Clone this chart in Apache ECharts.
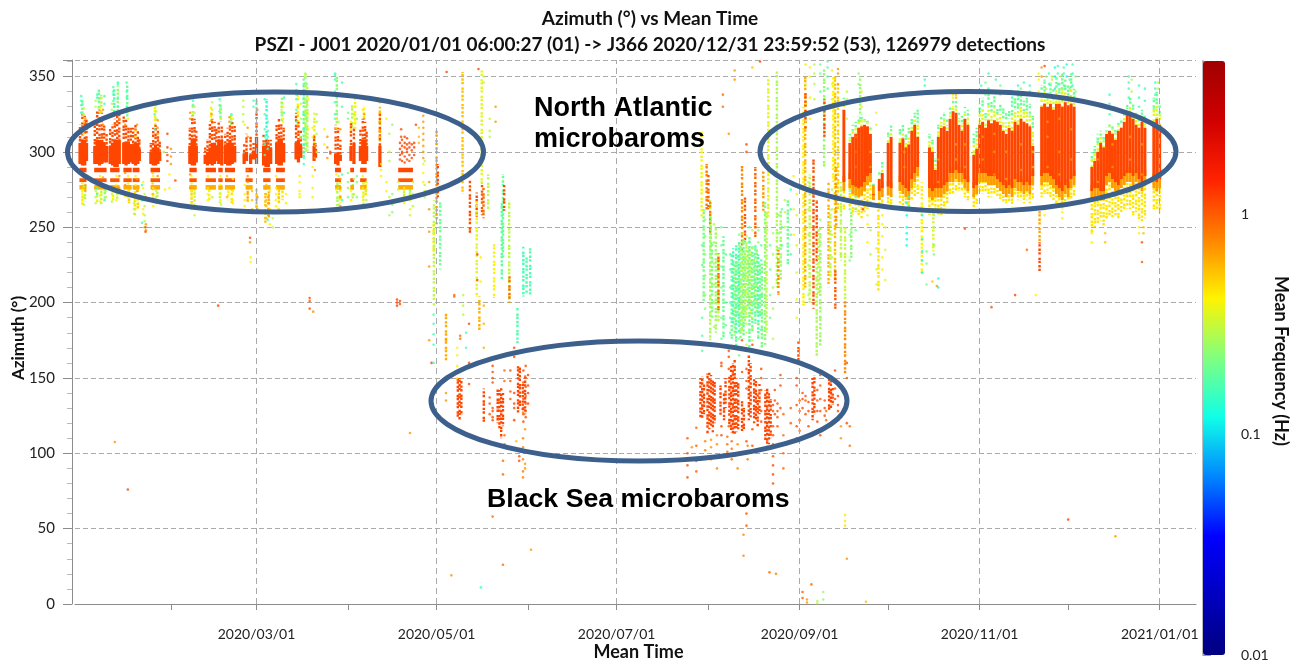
<!DOCTYPE html>
<html>
<head>
<meta charset="utf-8">
<title>Azimuth vs Mean Time</title>
<script src="https://cdn.jsdelivr.net/npm/echarts@6/dist/echarts.min.js"></script>
<style>
html,body{margin:0;padding:0;background:#fff;}
#main{width:1302px;height:664px;}
</style>
</head>
<body>
<div id="main"></div>
<script>
// all days are counted from 2020/01/01, all azimuths in degrees, frequencies in Hz
var monthTicks = ['2020-02-01','2020-03-01','2020-04-01','2020-05-01','2020-06-01','2020-07-01','2020-08-01','2020-09-01','2020-10-01','2020-11-01','2020-12-01','2021-01-01'];
var labelledMonths = ['2020-03-01','2020-05-01','2020-07-01','2020-09-01','2020-11-01','2021-01-01'];
var freqLabels = [0.01,0.1,1];
var freqMinor = [0.02,0.03,0.04,0.05,0.06,0.07,0.08,0.09,0.2,0.3,0.4,0.5,0.6,0.7,0.8,0.9,2,3,4,5];

// winter north atlantic runs: day, core low, core high, top of the sparse part
var winterRuns = [
[.2,292,306,318],[1,291,308,325],[1.8,291,308,324],[2.4,294,306,322],
[5.2,292,304,318],[6,292,308,328],[6.8,291,308,328],[7.6,292,308,326],[8.4,293,306,318],[9.2,293,304,312],
[10.4,292,304,316],[11.2,291,306,318],[12,290,308,322],[12.8,290,308,326],[13.5,292,308,325],
[15,292,306,324],[15.8,291,307,322],[16.6,292,307,318],[17.4,293,304,316],
[18.2,292,304,316],[19,291,306,318],[19.8,292,306,314],[20.3,294,302,310],
[24.2,292,300,306],[25,291,303,316],[25.8,291,305,318],[26.6,292,303,314],[27.2,294,300,308],
[37.4,292,304,316],[38.2,291,309,324],[39,291,309,322],[39.6,293,304,314],
[42.6,292,298,304],[43.4,291,300,308],[44.2,292,303,320],[45,291,306,322],[45.8,292,306,320],[46.4,294,304,316],
[47.2,292,308,320],[48.2,291,308,318],
[49.4,292,304,312],[50.2,291,306,316],[51,291,308,318],[51.8,292,306,320],[52.6,293,304,318],
[55.8,292,299,306],[56.6,294,300,312],[58,292,298,310],[59,295,301,306],[60,292,310,326],
[62.4,291,304,312],[63.2,290,306,310],[64,290,304,308],[64.8,292,303,308],
[66.8,292,306,318],[67.6,291,309,322],[68.4,291,309,320],[69.2,293,306,316],
[73.4,295,306,326],[74.2,293,308,320],[75,296,304,314],[79.5,294,304,312],[80,296,302,306],
[86.8,292,299,318],[87.6,291,300,316],[88.4,294,298,308],
[92,294,304,320],[93,292,306,316],
[95.2,294,304,316],[96,292,308,322],[96.8,292,308,320],[97.3,294,304,314],[101.8,290,304,326]];
var winterStripes = [[286.5,289.5,1.15],[280,282.5,1.05],[275,278,.62]];
// columns that carry those stripes: day, width
var stripeColumns = [[1.2,2.4],[7.1,4.2],[12,3.2],[16.3,2.8],[19.2,2.3],[25.7,3.2],[38.5,2.5],[44.5,3.5],[47.8,1.5],[51,3.4],[57.5,2.4],[63.5,2.5],[68.1,3],[87.6,2],[92.4,1.3],[96.2,2.2],[110.5,5]];
// yellow and green speckle under and over the winter columns: day, low, high, frequency
var winterFringe = [
[1,265,276,.42],[1.9,267,276,.3],[6,266,276,.36],[7.4,264,276,.3],[8.6,268,276,.25],[11.4,266,276,.4],[12.8,268,276,.3],[15.6,268,276,.45],[16.8,266,276,.5],[18.8,258,276,.48],[19.8,262,276,.5],
[25,266,276,.45],[26.4,268,276,.3],[38,262,276,.5],[39,264,276,.35],[44,268,276,.4],[47.6,266,276,.3],[50.4,268,276,.4],[51.6,266,276,.45],[57,266,276,.6],[60,262,276,.5],[63,252,276,.55],[64.2,256,276,.6],
[67.6,264,276,.5],[68.8,268,276,.45],[87.4,262,280,.28],[88.4,266,280,.4],[92.6,268,280,.3],[96.2,264,280,.35],[97,270,280,.45],[110,268,278,.3],[112,268,278,.25],
[1,325,336,.2],[6.6,328,342,.2],[7.4,326,338,.3],[11.8,324,342,.17],[13,326,344,.25],[16.2,322,345,.2],[25.6,318,330,.4],[38.4,322,332,.3],[44.6,320,330,.4],[47.8,320,334,.22],[51.4,318,326,.3],
[60,325,335,.2],[63.4,305,335,.14],[68.6,320,336,.24],[74,320,340,.4],[76,296,345,.18],[76.6,300,352,.26],[77.2,300,344,.3],[79.6,300,326,.36],[87.2,318,352,.24],[92.4,316,332,.3],[93.4,316,338,.42],[96.4,320,330,.4],[101.8,304,330,.55]];

// late year north atlantic, one row per day: day, yellow low, core low, core high, green top
var autumnRows = [
[259,262,274,328,336],[261,262,276,306,312],[262,258,272,310,318],[263,260,271,312,320],[264,258,270,316,324],[265,256,271,317,325],[266,260,274,318,324],[267,262,278,317,322],[268,262,280,312,318],
[269,264,268,272,280],[271,262,268,282,288],[272,264,270,286,294],[274,262,271,306,314],[275,264,270,310,318],[278,266,274,306,316],[279,264,272,309,318],[280,264,270,303,312],[281,262,268,305,316],
[282,268,276,314,322],[283,270,280,318,326],[284,272,284,310,328],[288,258,270,303,312],[289,260,268,300,308],[290,262,270,288,296],[291,258,270,310,318],[292,258,270,316,324],[293,262,272,317,326],[294,264,274,314,322],
[295,272,280,322,330],[296,272,280,327,334],[297,274,282,326,334],[298,274,280,318,326],[299,274,280,314,324],[300,270,276,322,330],[301,268,274,318,328],[303,262,270,298,312],[304,264,272,302,316],
[305,272,280,318,332],[306,272,280,320,336],[307,272,280,316,328],[308,270,278,321,340],[309,270,278,319,335],[310,272,278,321,338],[311,270,276,320,330],[312,268,274,318,332],[313,266,272,314,330],[314,266,270,312,326],[315,266,272,316,328],[316,264,270,314,334],
[317,270,276,320,336],[318,268,274,318,338],[319,268,274,322,340],[320,266,272,320,334],[321,268,274,319,336],[322,266,272,317,332],[323,268,278,304,324],
[326,270,278,330,344],[327,272,280,332,348],[328,272,280,330,340],[329,270,278,332,346],[330,268,276,328,342],[331,266,272,332,350],[332,264,270,332,346],[333,262,268,330,352],[334,266,272,333,348],[335,264,270,331,344],[336,268,276,332,352],[337,270,278,330,342],
[343,246,268,290,300],[344,250,270,294,304],[345,252,270,300,312],[346,254,268,306,314],[347,250,268,303,312],[348,254,278,312,316],[349,258,280,314,320],[350,256,276,312,318],[351,258,274,308,316],[352,256,272,314,320],[353,260,276,316,322],[354,262,278,320,328],[355,262,280,325,332],[356,262,280,326,336],[357,258,278,322,332],[358,260,280,318,326],[359,254,276,316,324],[360,254,274,320,328],[361,256,278,316,324],[364,262,276,320,336],[365,262,274,322,340],[366,260,276,318,332]];

// black sea runs: day, low, high
var blackSeaRuns = [
[128.2,124,150],[128.8,122,150],[129.4,126,148],[137,121,143],[141.7,120,143],[142.3,116,142],[142.9,110,144],[143.5,118,140],[148.6,127,160],[149.2,130,158],[150.2,128,146],[151,126,152],
[210.4,124,150],[211,122,151],[211.6,126,146],[212.8,113,153],[213.4,116,154],[214,118,152],[214.6,114,150],[215.2,120,148],[217.2,125,145],[218.4,122,140],[218.9,130,150],
[220.2,118,152],[220.8,114,158],[221.4,112,160],[222,113,162],[222.6,114,150],[223.2,116,148],[224.5,113,135],[225.1,116,130],[226.8,122,165],[227.4,124,160],
[228.6,120,150],[229.2,122,148],[229.8,118,140],[230.4,126,146],[232.4,108,142],[233,104,144],[233.6,106,140],[234.2,110,136],[248.4,122,150],[249,126,152],[254,128,150],[254.6,130,148],[255.2,132,144]];

// thin vertical runs between the regions: day, low, high, frequency
var stemRuns = [
[121,252,314,.7],[121.4,270,292,1.15],[120,232,252,.42],[120.1,198,268,.3],[122.2,222,268,.2],[124.2,160,193,.62],
[129.8,272,353,.55],[132.3,246,281,1.1],[134.6,257,273,1.1],[134.6,204,268,.36],[136.3,279,354,.36],[136.4,258,279,1.05],[136.9,256,276,.9],
[135.5,180,204,.6],[140.5,203,240,.42],[143.1,215,266,.18],[143.5,230,285,.2],[143.9,261,278,1.1],[145.6,200,268,.3],[145.7,200,218,.9],
[138.5,262,285,.3],[148.4,173,197,.17],[150.4,204,237,.16],[151.5,206,232,.17],[152.7,204,237,.17],
[211.5,200,262,.22],[215.6,180,250,.26],[218.2,176,244,.2],[237.6,215,262,.26],[240,225,268,.2],[247.4,200,285,.3],[251,170,250,.26],[258,228,280,.3],[261.5,228,262,.24],
[210.8,257,314,.4],[212.5,261,292,.8],[213.1,262,285,1],[213.7,175,268,.28],[213.7,245,268,.8],[213.9,230,257,.24],[214.3,190,240,.22],[216.5,186,233,.3],[216.5,195,233,.9],
[224.5,234,292,.75],[225.5,240,270,1.05],[229,243,290,.95],[231.7,261,287,.7],[233.4,257,350,.36],[236.3,210,354,.28],[236.8,205,235,.75],
[243.6,162,175,1.05],[245.3,198,330,.42],[245.9,210,352,.6],[246,315,340,1.1],[248.7,196,295,1.1],[249.8,226,268,1.1],[249.8,164,226,.28],[250.4,205,250,.3],
[252.3,290,355,.25],[252.4,310,335,1.1],[253.8,210,280,.6],[254.4,215,262,.3],[256,215,352,.55],[256.1,195,222,1.05],[256.4,250,290,.7],[255.4,280,350,.42],[257,260,345,.5],
[259.4,153,202,.75],[259.4,202,250,.32],[264.5,320,350,.26],[270.7,208,262,.45],[285.4,218,280,.42],[289.3,234,263,.36],
[325.3,240,261,.65],[325.3,219,240,1.15]];

// green cloud of august: day, low, high, frequency
var cloudRuns = [
[221,176,232,.2],[221.5,186,236,.16],[222,178,226,.24],[222.5,170,238,.18],[223,190,232,.22],[223.5,180,240,.16],[224,176,240,.24],[224.5,180,236,.3],[225,176,242,.2],[225.5,186,234,.26],
[226,190,240,.3],[226.5,196,236,.26],[227,170,244,.2],[227.5,190,234,.28],[228,180,238,.2],[228.5,196,232,.26],[229,186,240,.18],[229.5,194,236,.24],[230,176,232,.16],[230.5,190,226,.2],[231.2,170,226,.22],[232.3,172,268,.24],[232.8,180,260,.3]];

// single detections: day, frequency, azimuths
var winterDots = [
[.6,.16,326,331,334,337],[1,.42,266,268,272,275,279,284],[1.5,.3,265,270,277,325,329],[1.4,.42,312,316,320],[2,.7,274,278,284,316,322],
[5.5,.3,266,270,274,330,334],[6,.16,272,276,336,338],[7,.42,267,271,279,284,326,329],[8,.7,278,283,318,322,328],[8.5,.16,268,332,337],[9,.3,270,274,322],
[11,.3,267,272,328,332],[11.5,.16,334,338,340,343],[12.5,.42,268,274,278,284,326],[13,.16,330,336,345,346],[13.5,.7,276,284,322],
[16,.16,330,336,340,346],[16.5,.42,270,274,279,284,322,327],[15.5,.7,272,278,286,318],
[19,.42,262,265,268,272,278,284,310,314],[19.5,.7,274,282,318],[18.5,.3,259,262,266],
[21.6,.42,259,262,268,276,280],[22.1,.3,250,254,258,264,272],[22.5,.7,248,252,270],[22.4,1.15,247,250],[21.2,.16,253,268,278],
[25,.42,264,268,272,276,284],[26,.3,266,270,274,322,327,331],[26.5,.7,276,284,312,316,321],[25.5,.16,315,325,333],[24.8,.55,272,279,286],
[29.8,1.15,294,298,303,312],[31,.7,292,297,302],[30.5,.42,276,285],[32.5,1.15,281],[29,.42,275],[28.6,.3,300],
[38,.42,262,266,270,274,279,284],[39,.3,258,265,272,326,330],[38.5,.16,331,334],[37.5,.7,276,285,326,322],
[43.5,.42,268,272,276,284],[45,.3,262,270,333,328],[44.8,.7,321,325],[47.5,.16,327,331,335],[47.8,.42,268,272,278,284,322],[48,.3,265,322,328],
[50,.55,270,276,284],[51.5,.16,320,325],[52,.42,266,268,274,282,322],[50.8,.7,320,323],
[55.5,.3,330,334,325,320],[56,.42,278,268,264,272,318],[57,.7,280,284,288,272,316,310],[58.5,.55,262,268,274],[59,.16,334,330],
[57.8,1.15,243],[58,.42,227,230],[60,.55,260,264,268,272],[60.3,.7,262,270,328],
[62.8,.16,325,335,315,310,305,298],[63.3,.55,256,260,264,268,272,278],[64,.7,258,262,266,270],[64.5,.42,262,274,252],[63.8,.16,314,320,302,310,255],[65.5,.3,250,256],
[66.6,.42,264,268,272,276,284],[67.5,.55,262,270,276],[68.5,.3,326,328,330,333],[69,.42,322,320,330],[69.3,.16,336,326],[70,.42,266,272],
[73.5,.16,328,335,345,341,338,320],[74,.55,318,324,330],[74.6,.42,270,274,284,272,280],[75,.3,310,322,332,338],
[76,.16,300,296,292,305,315,325,335,340,345,348],[76.5,.3,310,318,322,326,330,335,338,344,350,352],[77,.22,305,315,325,345,340,333,330,322],[77.5,.42,315,325,335],
[79,.42,270,276,284,290,310,316],[79.8,.7,296,304,288],[80.4,.3,312,320,325,300],
[83,.42,305,315],[84,.7,303,296,310],[85,1.15,300,299],
[86.6,.16,340,333,325,322,348,351,352],[87,.42,285,316,322,275],[87.8,.3,265,270,276,284,320],[88.4,.7,276,282,270,264,315],[89,.16,330,346,285,268],
[91,.22,270,276,280,286,322,326],[92,.42,262,268,274,320,315],[93,.3,264,272,282,325],[93.5,.42,316,322,330,336],[94,.22,270,280,284,322],
[96,.42,264,270,276,284,328],[96.5,.7,322,325],[97.2,.3,263,268,275,280],
[101.8,.55,310,314,320,326,333],[102.2,.42,288,292,284],[104,.42,280,266,274,322],[105,.3,294,300,312,258,270],[106,.22,265,260,272,318],
[108.6,1.15,295,298,302,306],[109.3,1.15,294,299,304,308,300],[110.2,1.15,293,297,303,306,310],[111,1.15,295,300,305,309,302],[111.8,1.15,294,298,303,306],[112.6,1.15,296,301,305],[113.4,1.15,298,303,306],[109,1.1,288,315,310],
[108,.3,275,280,268],[110,.42,270,276,266,274],[112,.36,268,272,262,258],[113,.3,264,272,280],[114,1.15,318],[115,.55,306,310,316],
[116.5,.7,296,300,304,308,312,316,320,324],[116.5,.42,280,286,292],[117,.3,270,274,278,294],[118.5,.7,280,272,262]];

var blackSeaDots = [
[124.4,1.15,353],[135.2,1.15,355],[137,.3,350,346],[139,.3,310,314,322],[141,.7,330,320],
[118.5,.7,247,224,175],[119.3,1.15,160],[120,.16,179,186,192,172,160],[127,.9,205,204],[124.2,.7,175,140,135],[128,.42,170,165,158,150],
[130,.3,192,198,205],[129,.9,178,176],[131,.16,170,180],[132,1.1,186,160,146],[136,.42,214,230],[137,.6,198,186,170],
[134.8,1.15,232,215],[140,1.1,150,158,154,147,130,128,122,124],[139,1,137,133,126],[144,.9,155,148,112,106],[146,1.05,155,148,141,136],
[147.3,1.15,170,164,140,133,130,122],[150.4,1.15,155,147,141,136,130,126,121],[151.2,1.05,158,150,144,138,133,128,124],[152,1.15,152,145,140,133],
[150.3,.8,127,110,104,96,88,84],[151,.7,116,93,90],[149,1.1,98,95],[148,.55,108],[153,.7,36],[143.5,.9,95,86,26],[140,.9,58],[126,.7,19],[136,.16,11],
[206,1.05,110,100,92,84],[207.5,.7,104,96],[209,1,117,105,95,88],[212,.8,108,102],[214,.7,109,104,96],[216,.75,112,106,98,90],[217.5,1.1,160,158,118,112],
[219.5,.9,111,106,101],[220,1.1,168,164,156,118],[221,.9,108,103,96],[223,.75,106,100,90],[224.5,1.1,170,175,154],[226,1.1,156,148,143,108,100],
[226.4,.8,105,96],[228,1.1,172,168,116,105],[231,1.1,156,150,142,128,121],[235,1.1,132,128,118,112,106,98,92,86,80],[235.6,1.1,142,135,126],[236.5,1.05,133,128,124,118],
[237.5,1.1,152,145,130],[238.5,.9,126,112,100,90],[241,1,130,120],[243,1.1,150,145,132,118,110],[244,1.05,135,128,122,115],[245,1.1,140,136,130],[246,1.05,138,135,126],
[247,1.15,134,128,118],[250,1.1,142,135,128,121,115],[251,1.05,152,145,136,128,112],[252.5,1.1,135,130,125],[253,.9,128,122],
[256,1.1,155,148,143,136],[257,1.15,138,132,128,122],[258,.7,124,118,110],[260,1.05,120,160,150],[261,.9,118,105],
[225,.75,46,32],[226,1,60,52],[233.8,.9,21],[236,.8,20],[245,1,8,4],[246.5,.7,3,1],[248,.9,13],[250,.3,2,.5],[252,.25,3,8],
[259.4,.45,59,55,52],[260,.7,30],[266.5,.55,1.5],[335,1.15,56],[351,.7,45],[230.6,1.15,360],[222,.7,354,348],[228,.55,356],[218,.9,338,330],[220,.7,312],[226,1.1,300,305]];

var strayDots = [
[57.8,.7,240],[47,1.15,198],[78,1.05,203,201,196],[79.2,.7,194],[107.6,1.15,202,200,198],[108.6,1.1,201,199],[16.4,1.15,76],[12,.7,107.5],[112,.7,113.5],
[317,1.15,205],[309,1.05,197],[300,1.05,249],[360,1,227,240],[324,.42,205],[321,.9,235]];

var cloudDots = [
[220.5,.18,170,180,190,200,210,222,232],[223.5,.22,165,176,188,196,206,216,238,245],
[224.5,.3,170,182,194,240,246],[226,.3,172,180,186,238,244],[227,.18,168,175,240,250],[228,.3,175,183,190,236,248],
[230,.24,178,186,240,248],[231,.18,182,192,205,228,238],[234,.2,190,205,222,238],[235,.28,176,196,210,232,246],
[212,.24,196,205,218,232,244,255],[215,.28,172,184,200,212,226,240,252],[211,.18,168,178,190,225,238],[217.5,.2,176,190,210,224,238,250],[219,.18,185,200,232],
[237,.22,228,236,246,258],[238,.18,238,250,262],[239,.3,250,260,268],[241,.16,232,245,262,275],[247,.28,205,225,245,262,280],[251,.24,175,190,210,232,255],
[243,.36,190,202,220,238,258,272],[242,.42,245,262,284],[255,.3,230,245,262,275],[258,.28,232,248,262],[261,.22,228,245,262,274],[263,.22,248,262,270],[267,.42,240,252,258],[268,.3,232,248],
[272,.42,222,230,244,252,258],[273,.36,215,235,250],[270,.36,212,222,236],[280.3,.12,250,246,242,238,258,262,266],[281,.16,270,264],[285.5,.12,220,228,234,242,258],[287,.22,212,226,234],[289.5,.22,232,238,250,258],[291,.12,210,216],[289,.55,214],[290.5,.7,211]];

var autumnDots = [
[246,.36,320,332,345,358],[247.5,.42,322,336,350,356],[249,.3,335,345,352,358],[251,.2,340,352,358],[253.5,.18,342,350,356,360],[255,.36,335,345,354],[257,.7,345,352,355],
[260,.3,322,335,340],[264,.22,335,345,352],[265,.36,330,340],[270,.36,318,326,336],[286.4,.16,344,348],
[296,.42,336,338],[297,.55,336,338],[305.5,.16,340,344],[307,.22,338,346],[308,.16,342,352],[310.5,.16,340,348],[312,.22,338,344],[316,.16,336,340],[318,.16,340,344],[319,.22,342],[320,.16,338,346],[322,.16,340,344],
[325,.42,340,348,352],[326,.7,350,356],[327,1.15,357],[327.5,.24,342,350],[328.5,.16,345,352],[329.5,.3,348,350],[330.5,.12,342,350,356],[331.5,.16,345,352,357],[332.5,.3,342,350],[333.5,.16,344,352,356],[334.5,.12,350,358],[335.5,.22,342,348],[336.5,.16,344,352,358],[337.5,.24,340,350],
[349,.16,325,332,338],[355.5,.16,336,342,346,350],[356.5,.3,340,348],[359,.16,330,336,344],[361,.16,334,342],[364.5,.16,338,342,346],[365.5,.3,342,346],
[343,.42,246,240],[347.5,.55,246,240],[359,.42,250,246],[360.5,.55,250,246],[327,.42,262,258],[333,.42,256,260],
[263,.9,290,300,310],[265.5,1.15,262,266],[268,.7,300,290,285],[279.5,.7,290,300],[291,.7,280,295],[297,.7,295,305],[300,.7,290,305],[306,.7,295,310],[310,.7,285,300,312],[314,.7,282,300],[319,.7,288,305],[323,.55,290,300],[328,.7,290,310,320],[332,.7,285,300,322],[336,.7,295,315],[345,.7,280,295],[350,.7,290,305],[356,.7,295,310],[360,.7,285,305]];

var dayMs = 864e5;
var startMs = Date.UTC(2020,0,1);
function dayToMs(d){ return startMs + d*dayMs; }
function dateToMs(s){ return new Date(s+'T00:00:00Z').getTime(); }

// bands: [time, az low, az high, log10 frequency, width in days]; width 0 means a speckled thin run
function band(day,low,high,f,w){ return [dayToMs(day),low,high,Math.log10(f),w]; }
var bands = [];
stemRuns.forEach(function(s){ bands.push(band(s[0],s[1],s[2],s[3],0)); });
cloudRuns.forEach(function(s){ bands.push(band(s[0],s[1],s[2],s[3],0)); });
winterFringe.forEach(function(s){ bands.push(band(s[0],s[1],s[2],s[3],0)); });
winterRuns.forEach(function(r){
	bands.push(band(r[0],r[2],r[3],1.1,0));
	bands.push(band(r[0],r[1],r[2],1.15,1.1));
});
stripeColumns.forEach(function(c){
	winterStripes.forEach(function(s){ bands.push(band(c[0],s[0],s[1],s[2],c[1])); });
});
autumnRows.forEach(function(r){
	var mid = (r[3]+r[4])/2;
	bands.push(band(r[0],r[3],mid,.36,0));
	bands.push(band(r[0],mid,r[4],.2,0));
	bands.push(band(r[0],r[1],r[2]+4,.45,0));
	bands.push(band(r[0],r[2],r[2]+10,.68,.95));
	bands.push(band(r[0],r[2]+6,r[3],1.15,1));
});
blackSeaRuns.forEach(function(r){ bands.push(band(r[0],r[1],r[2],1.15,0)); });

// dots: [time, az, az, log10 frequency]
var dots = [];
[winterDots,blackSeaDots,strayDots,cloudDots,autumnDots].forEach(function(list){
	list.forEach(function(r){
		for(var i=2;i<r.length;i++) dots.push([dayToMs(r[0]),r[i],r[i],Math.log10(r[1])]);
	});
});

var jet = ['#000080','#0000c0','#0000ff','#0086ff','#10ffe8','#80ff80','#fff400','#ff8500','#ff2200','#d00000','#a00000'];
var labelColor = '#222';
var axisGrey = '#8c8c8c';
var fontName = 'Lato';

var myChart = echarts.init(document.getElementById('main'));
var option = {
	animation:false,
	backgroundColor:'#fff',
	textStyle:{fontFamily:fontName},
	title:{
		text:'Azimuth (°) vs Mean Time\nPSZI - J001 2020/01/01 06:00:27 (01) -> J366 2020/12/31 23:59:52 (53), 126979 detections',
		left:645,top:1,textAlign:'center',
		textStyle:{fontFamily:fontName,fontSize:19,fontWeight:'bold',color:'#111',lineHeight:26}
	},
	grid:[
		{left:75,right:106,top:60,bottom:60,outerBoundsMode:'none'},
		{left:1203,width:22,top:61,height:594,outerBoundsMode:'none'}
	],
	xAxis:[{
		type:'value',gridIndex:0,
		min:dayToMs(-1.5),max:dayToMs(378.3),
		offset:8,
		axisLine:{lineStyle:{color:axisGrey}},
		axisTick:{length:6,customValues:monthTicks.map(dateToMs),lineStyle:{color:axisGrey}},
		axisLabel:{
			customValues:labelledMonths.map(dateToMs),
			color:labelColor,fontSize:14,margin:15,hideOverlap:false,showMinLabel:true,showMaxLabel:true,
			formatter:function(v){ return echarts.time.format(v,'{yyyy}/{MM}/{dd}',true); }
		},
		splitLine:{show:false},
		name:'Mean Time',nameLocation:'middle',nameGap:31,nameMoveOverlap:false,
		nameTextStyle:{fontFamily:fontName,fontWeight:'bold',fontSize:18,color:'#111',padding:[0,0,0,6]}
	},{
		type:'value',gridIndex:1,show:false,min:0,max:1
	}],
	yAxis:[{
		type:'value',gridIndex:0,
		min:0,max:361,interval:50,
		offset:3,
		axisLine:{show:true,lineStyle:{color:axisGrey}},
		axisTick:{show:true,length:9,lineStyle:{color:axisGrey}},
		minorTick:{show:true,splitNumber:5,length:5,lineStyle:{color:'#bbb'}},
		axisLabel:{color:labelColor,fontSize:15,margin:17,showMaxLabel:false},
		splitLine:{show:true,lineStyle:{type:[5,3],color:'#aaa',width:1}},
		name:'Azimuth (°)',nameLocation:'middle',nameGap:45,nameMoveOverlap:false,
		nameTextStyle:{fontFamily:fontName,fontWeight:'bold',fontSize:17,color:'#111',padding:[0,12,0,0]}
	},{
		type:'value',gridIndex:1,position:'right',
		min:-2,max:Math.log10(5),
		axisLine:{show:true,lineStyle:{color:'#bbb',width:2}},
		axisTick:{show:true,length:8,customValues:freqLabels.concat(freqMinor).map(Math.log10),lineStyle:{color:'#999'}},
		axisLabel:{
			customValues:freqLabels.map(Math.log10),
			color:labelColor,fontSize:14,margin:16,showMinLabel:true,
			formatter:function(v){ return String(freqLabels[Math.round(v)+2]); }
		},
		splitLine:{show:false},
		name:'Mean Frequency (Hz)',nameLocation:'middle',nameRotate:-90,nameGap:47,nameMoveOverlap:false,
		nameTextStyle:{fontFamily:fontName,fontWeight:'bold',fontSize:18,color:'#111',padding:[0,0,0,6]}
	}],
	visualMap:[{
		type:'continuous',seriesIndex:[1,2],dimension:3,
		min:-2,max:Math.log10(5),
		left:1203,top:61,itemWidth:22,itemHeight:594,padding:0,
		calculable:false,hoverLink:false,text:['',''],
		inRange:{color:jet}
	}],
	series:[{
		// vertical dashed grid lines on every labelled month
		type:'line',xAxisIndex:0,yAxisIndex:0,data:[],silent:true,
		markLine:{
			silent:true,symbol:'none',label:{show:false},animation:false,
			lineStyle:{type:[6,4],color:'#aaa',width:1},
			data:labelledMonths.map(function(m){ return {xAxis:dateToMs(m)}; })
		}
	},{
		type:'custom',xAxisIndex:0,yAxisIndex:0,silent:true,clip:true,
		data:bands,
		encode:{x:0,y:[1,2]},
		dimensions:['t','low','high','logf','w'],
		renderItem:function(params,api){
			var top = api.coord([api.value(0),api.value(2)]);
			var bot = api.coord([api.value(0),api.value(1)]);
			var w = api.size([api.value(4)*dayMs,0])[0];
			if(api.value(4)==0){
				// uneven dash so the thin runs read as separate detections
				return {
					type:'line',
					shape:{x1:top[0],y1:top[1],x2:bot[0],y2:bot[1]},
					style:{stroke:api.visual('color'),lineWidth:2.4,lineDash:[2.4,1.2,2.4,3.1,2.4,.6,2.4,2],lineDashOffset:params.dataIndex*1.7}
				};
			}
			return {
				type:'rect',
				shape:{x:top[0]-w/2,y:top[1],width:w,height:Math.max(bot[1]-top[1],1)},
				style:{fill:api.visual('color')}
			};
		}
	},{
		type:'scatter',xAxisIndex:0,yAxisIndex:0,silent:true,
		data:dots,symbolSize:2.6,
		encode:{x:0,y:1},
		dimensions:['t','az','az2','logf']
	}],
	graphic:[
		{type:'ellipse',z:100,silent:true,shape:{cx:275.5,cy:152,rx:208,ry:60},style:{fill:'none',stroke:'#3c5f8c',lineWidth:5}},
		{type:'ellipse',z:100,silent:true,shape:{cx:968,cy:151.5,rx:208,ry:60},style:{fill:'none',stroke:'#3c5f8c',lineWidth:5}},
		{type:'ellipse',z:100,silent:true,shape:{cx:639,cy:401,rx:208,ry:60},style:{fill:'none',stroke:'#3c5f8c',lineWidth:5}},
		{type:'text',z:101,silent:true,left:534,top:93,style:{text:'North Atlantic\nmicrobaroms',fill:'#000',font:'bold 27px "Liberation Sans"',lineHeight:31}},
		{type:'text',z:101,silent:true,left:487,top:486,style:{text:'Black Sea microbaroms',fill:'#000',font:'bold 26.7px "Liberation Sans"'}}
	]
};
myChart.setOption(option);
</script>
</body>
</html>
